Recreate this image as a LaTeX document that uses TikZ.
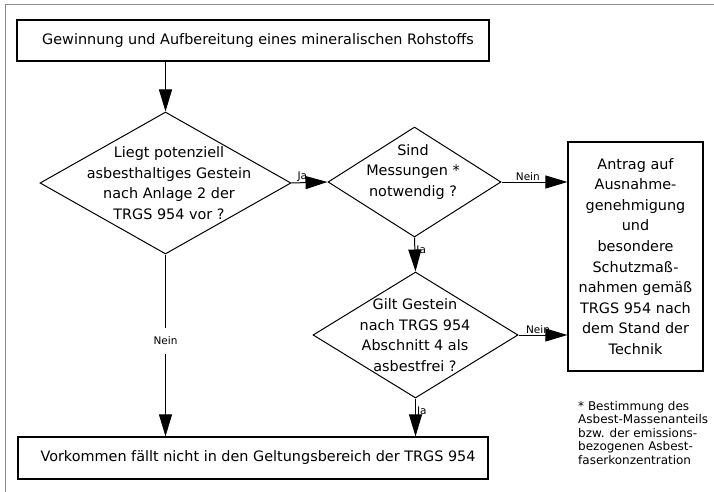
\documentclass[tikz,border=0pt]{standalone}
\usepackage{fontspec}
\setmainfont{DejaVu Sans}
\usetikzlibrary{shapes.geometric,arrows.meta}
\begin{document}
\begin{tikzpicture}[x=1pt,y=-1pt,
  box/.style={draw, line width=1.2pt, inner sep=0pt},
  dia/.style={draw, diamond, line width=1pt, inner sep=0pt},
  maintxt/.style={font=\fontsize{14.4}{20.6}\selectfont, align=center, inner sep=0pt},
  lbl/.style={font=\fontsize{10.5}{12}\selectfont, inner sep=1.5pt},
  arr/.style={line width=1pt, -{Triangle[length=22pt,width=13pt]}},
  frame/.style={draw=black!45, line width=1.3pt}
]
\useasboundingbox (0,0) rectangle (714,492);
% partial outer frame
\draw[frame] (5.5,492) -- (5.5,4.5) -- (714,4.5);

\node[box, maintxt, minimum width=472pt, minimum height=41pt] (top) at (253,40.5)
  {\hspace*{10pt}Gewinnung und Aufbereitung eines mineralischen Rohstoffs};

\node[dia, minimum width=251pt, minimum height=142pt] (d1) at (165.5,183) {};
\node[maintxt] (t1) at (169,183) {Liegt potenziell\\asbesthaltiges Gestein\\nach Anlage 2 der\\TRGS 954 vor ?};

\node[dia, minimum width=173pt, minimum height=110pt] (d2) at (414.5,182) {};
\node[maintxt] (t2) at (413,172) {Sind\\Messungen *\\notwendig ?};

\node[dia, minimum width=205pt, minimum height=126pt] (d3) at (415.5,335) {};
\node[maintxt] (t3) at (415,335) {Gilt Gestein\\nach TRGS 954\\Abschnitt 4 als\\asbestfrei ?};

\node[box, maintxt, minimum width=135pt, minimum height=229pt] (rb) at (635.5,256.5)
  {Antrag auf\\Ausnahme-\\genehmigung\\und\\besondere\\Schutzmaß-\\nahmen gemäß\\TRGS 954 nach\\dem Stand der\\Technik};

\node[box, maintxt, minimum width=470pt, minimum height=42pt] (bot) at (253,458)
  {\hspace*{10pt}Vorkommen fällt nicht in den Geltungsbereich der TRGS 954};

\node[font=\fontsize{12}{13.5}\selectfont, align=left, anchor=north west, inner sep=0pt] (fn) at (578,401)
  {* Bestimmung des\\Asbest-Massenanteils\\bzw. der emissions-\\bezogenen Asbest-\\faserkonzentration};

% connectors
\draw[arr] (d1.north |- top.south) -- (d1.north);
\draw[arr] (d1.east) -- node[lbl, pos=0.3, above, inner sep=0.5pt] {Ja} (d2.west);
\draw[arr] (d2.east) -- node[lbl, pos=0.4, above, inner sep=1pt] {Nein} (rb.west |- d2.east);
\draw[arr] (d2.south) -- node[lbl, pos=0.4, anchor=west, inner sep=1pt] {Ja} (d3.north);
\draw[arr] (d3.east) -- node[lbl, pos=0.4, above, inner sep=0.5pt] {Nein} (rb.west |- d3.east);
\draw[arr] (d3.south) -- node[lbl, pos=0.35, anchor=west, inner sep=1pt] {Ja} (d3.south |- bot.north);
\draw[arr] (d1.south) -- node[lbl, pos=0.475, fill=white, inner xsep=2pt, inner ysep=9pt] {Nein} (d1.south |- bot.north);
\end{tikzpicture}
\end{document}
